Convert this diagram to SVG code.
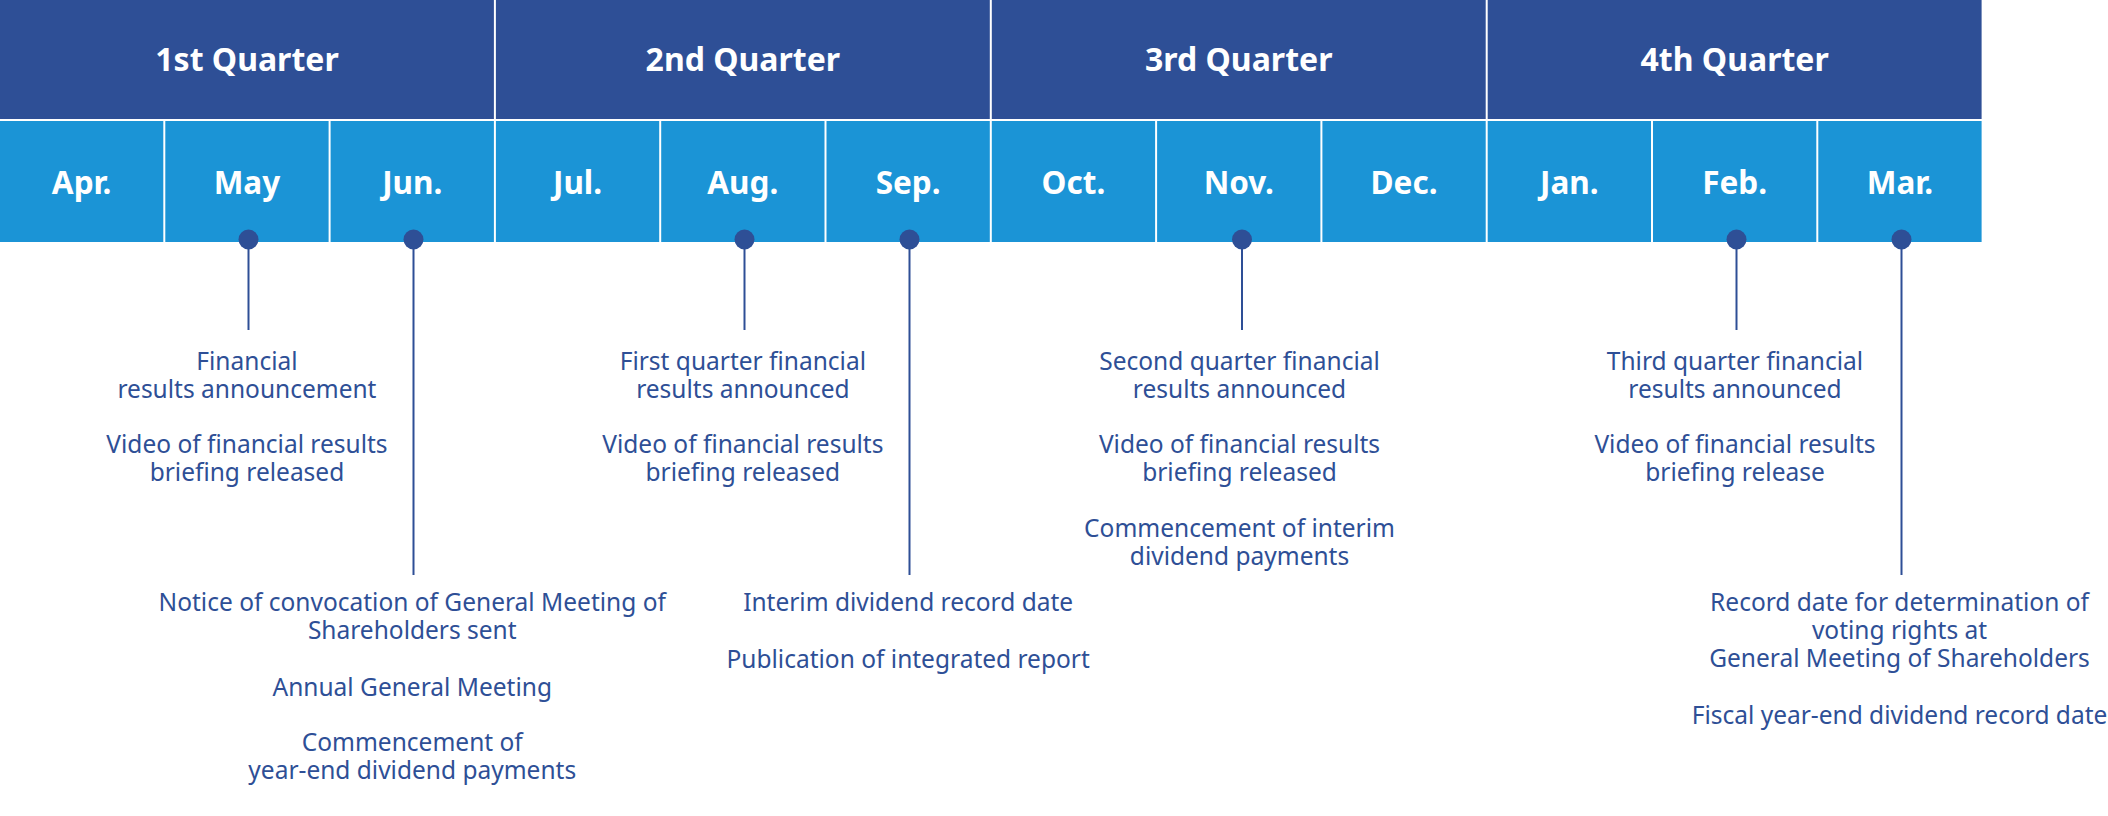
<svg xmlns="http://www.w3.org/2000/svg" width="2108" height="816" viewBox="0 0 2108 816">
<style>
.q{fill:#2e4f96}
.m{fill:#1b94d6}
.hl{font-family:"Noto Sans","Open Sans",sans-serif;font-weight:700;fill:#ffffff;text-anchor:middle}
.qt{font-size:32px}
.mt{font-size:31.5px}
.ev{font-family:"Noto Sans","Open Sans",sans-serif;font-size:24.5px;fill:#2e4f96;text-anchor:middle}
.dot{fill:#2e4f96}
.ln{stroke:#2e4f96;stroke-width:2;fill:none}
</style>
<rect width="2108" height="816" fill="#ffffff"/>
<g id="q1"><rect class="q" x="0" y="0" width="493.9" height="119"/><text class="hl qt" x="247" y="71">1st Quarter</text></g>
<g id="q2"><rect class="q" x="495.9" y="0" width="493.9" height="119"/><text class="hl qt" x="742.85" y="71">2nd Quarter</text></g>
<g id="q3"><rect class="q" x="991.8" y="0" width="493.9" height="119"/><text class="hl qt" x="1238.75" y="71">3rd Quarter</text></g>
<g id="q4"><rect class="q" x="1487.7" y="0" width="493.9" height="119"/><text class="hl qt" x="1734.65" y="71">4th Quarter</text></g>
<g id="m-apr"><rect class="m" x="0" y="121" width="163.3" height="121"/><text class="hl mt" x="81.65" y="194">Apr.</text></g>
<g id="m-may"><rect class="m" x="165.3" y="121" width="163.3" height="121"/><text class="hl mt" x="246.95" y="194">May</text></g>
<g id="m-jun"><rect class="m" x="330.6" y="121" width="163.3" height="121"/><text class="hl mt" x="412.25" y="194">Jun.</text></g>
<g id="m-jul"><rect class="m" x="495.9" y="121" width="163.3" height="121"/><text class="hl mt" x="577.55" y="194">Jul.</text></g>
<g id="m-aug"><rect class="m" x="661.2" y="121" width="163.3" height="121"/><text class="hl mt" x="742.85" y="194">Aug.</text></g>
<g id="m-sep"><rect class="m" x="826.5" y="121" width="163.3" height="121"/><text class="hl mt" x="908.15" y="194">Sep.</text></g>
<g id="m-oct"><rect class="m" x="991.8" y="121" width="163.3" height="121"/><text class="hl mt" x="1073.45" y="194">Oct.</text></g>
<g id="m-nov"><rect class="m" x="1157.1" y="121" width="163.3" height="121"/><text class="hl mt" x="1238.75" y="194">Nov.</text></g>
<g id="m-dec"><rect class="m" x="1322.4" y="121" width="163.3" height="121"/><text class="hl mt" x="1404.05" y="194">Dec.</text></g>
<g id="m-jan"><rect class="m" x="1487.7" y="121" width="163.3" height="121"/><text class="hl mt" x="1569.35" y="194">Jan.</text></g>
<g id="m-feb"><rect class="m" x="1653" y="121" width="163.3" height="121"/><text class="hl mt" x="1734.65" y="194">Feb.</text></g>
<g id="m-mar"><rect class="m" x="1818.3" y="121" width="163.3" height="121"/><text class="hl mt" x="1899.95" y="194">Mar.</text></g>
<g id="connectors">
<line class="ln" x1="248.5" y1="240" x2="248.5" y2="330"/>
<line class="ln" x1="413.5" y1="240" x2="413.5" y2="575"/>
<line class="ln" x1="744.5" y1="240" x2="744.5" y2="330"/>
<line class="ln" x1="909.5" y1="240" x2="909.5" y2="575"/>
<line class="ln" x1="1242" y1="240" x2="1242" y2="330"/>
<line class="ln" x1="1736.5" y1="240" x2="1736.5" y2="330"/>
<line class="ln" x1="1901.5" y1="240" x2="1901.5" y2="575"/>
</g>
<g id="dots">
<circle class="dot" cx="248.5" cy="239.5" r="10"/>
<circle class="dot" cx="413.5" cy="239.5" r="10"/>
<circle class="dot" cx="744.5" cy="239.5" r="10"/>
<circle class="dot" cx="909.5" cy="239.5" r="10"/>
<circle class="dot" cx="1242" cy="239.5" r="10"/>
<circle class="dot" cx="1736.5" cy="239.5" r="10"/>
<circle class="dot" cx="1901.5" cy="239.5" r="10"/>
</g>
<g id="ev-may">
<text class="ev" x="246.95" y="370"><tspan x="246.95">Financial</tspan><tspan x="246.95" dy="28">results announcement</tspan></text>
<text class="ev" x="246.95" y="453"><tspan x="246.95">Video of financial results</tspan><tspan x="246.95" dy="28">briefing released</tspan></text>
</g>
<g id="ev-jun">
<text class="ev" x="412.25" y="611"><tspan x="412.25">Notice of convocation of General Meeting of</tspan><tspan x="412.25" dy="28">Shareholders sent</tspan></text>
<text class="ev" x="412.25" y="696">Annual General Meeting</text>
<text class="ev" x="412.25" y="751"><tspan x="412.25">Commencement of</tspan><tspan x="412.25" dy="28">year-end dividend payments</tspan></text>
</g>
<g id="ev-aug">
<text class="ev" x="742.85" y="370"><tspan x="742.85">First quarter financial</tspan><tspan x="742.85" dy="28">results announced</tspan></text>
<text class="ev" x="742.85" y="453"><tspan x="742.85">Video of financial results</tspan><tspan x="742.85" dy="28">briefing released</tspan></text>
</g>
<g id="ev-sep">
<text class="ev" x="908.15" y="611">Interim dividend record date</text>
<text class="ev" x="908.15" y="668">Publication of integrated report</text>
</g>
<g id="ev-nov">
<text class="ev" x="1239.5" y="370"><tspan x="1239.5">Second quarter financial</tspan><tspan x="1239.5" dy="28">results announced</tspan></text>
<text class="ev" x="1239.5" y="453"><tspan x="1239.5">Video of financial results</tspan><tspan x="1239.5" dy="28">briefing released</tspan></text>
<text class="ev" x="1239.5" y="537"><tspan x="1239.5">Commencement of interim</tspan><tspan x="1239.5" dy="28">dividend payments</tspan></text>
</g>
<g id="ev-feb">
<text class="ev" x="1735" y="370"><tspan x="1735">Third quarter financial</tspan><tspan x="1735" dy="28">results announced</tspan></text>
<text class="ev" x="1735" y="453"><tspan x="1735">Video of financial results</tspan><tspan x="1735" dy="28">briefing release</tspan></text>
</g>
<g id="ev-mar">
<text class="ev" x="1899.5" y="611"><tspan x="1899.5">Record date for determination of</tspan><tspan x="1899.5" dy="28">voting rights at</tspan><tspan x="1899.5" dy="28">General Meeting of Shareholders</tspan></text>
<text class="ev" x="1899.5" y="724">Fiscal year-end dividend record date</text>
</g>
</svg>
